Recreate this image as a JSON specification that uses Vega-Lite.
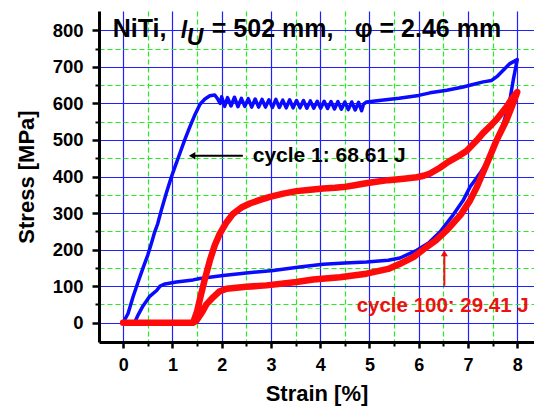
{
  "$schema": "https://vega.github.io/schema/vega-lite/v6.json",
  "width": 435,
  "height": 331,
  "autosize": {"type": "none"},
  "padding": {"left": 99, "top": 11, "right": 0, "bottom": 67},
  "background": "white",
  "config": {
    "view": {"stroke": null},
    "font": "Liberation Sans",
    "text": {"font": "Liberation Sans", "fontWeight": "bold"}
  },
  "datasets": {
    "cycle1": [
      {"i": 1, "x": 0, "y": 0}, {"i": 2, "x": 0.1, "y": 25}, {"i": 3, "x": 0.2, "y": 70}, {"i": 4, "x": 0.3, "y": 110},
      {"i": 5, "x": 0.41, "y": 152}, {"i": 6, "x": 0.5, "y": 185}, {"i": 7, "x": 0.58, "y": 220}, {"i": 8, "x": 0.64, "y": 248},
      {"i": 9, "x": 0.7, "y": 270}, {"i": 10, "x": 0.78, "y": 310}, {"i": 11, "x": 0.88, "y": 356}, {"i": 12, "x": 0.98, "y": 399},
      {"i": 13, "x": 1.07, "y": 433}, {"i": 14, "x": 1.15, "y": 463}, {"i": 15, "x": 1.25, "y": 500}, {"i": 16, "x": 1.36, "y": 538},
      {"i": 17, "x": 1.46, "y": 570}, {"i": 18, "x": 1.56, "y": 598}, {"i": 19, "x": 1.66, "y": 612}, {"i": 20, "x": 1.76, "y": 621},
      {"i": 21, "x": 1.86, "y": 623}, {"i": 22, "x": 1.92, "y": 612}, {"i": 23, "x": 1.97, "y": 600},
      {"i": 24, "x": 2.0, "y": 618}, {"i": 25, "x": 2.06, "y": 592}, {"i": 26, "x": 2.12, "y": 616}, {"i": 27, "x": 2.19, "y": 593},
      {"i": 28, "x": 2.26, "y": 617}, {"i": 29, "x": 2.33, "y": 591}, {"i": 30, "x": 2.4, "y": 614}, {"i": 31, "x": 2.47, "y": 592},
      {"i": 32, "x": 2.54, "y": 613}, {"i": 33, "x": 2.61, "y": 590}, {"i": 34, "x": 2.68, "y": 612}, {"i": 35, "x": 2.75, "y": 590},
      {"i": 36, "x": 2.82, "y": 611}, {"i": 37, "x": 2.89, "y": 590}, {"i": 38, "x": 2.96, "y": 610}, {"i": 39, "x": 3.03, "y": 589},
      {"i": 40, "x": 3.1, "y": 611}, {"i": 41, "x": 3.17, "y": 589}, {"i": 42, "x": 3.24, "y": 609}, {"i": 43, "x": 3.31, "y": 588},
      {"i": 44, "x": 3.38, "y": 610}, {"i": 45, "x": 3.45, "y": 588}, {"i": 46, "x": 3.52, "y": 608}, {"i": 47, "x": 3.59, "y": 588},
      {"i": 48, "x": 3.66, "y": 608}, {"i": 49, "x": 3.73, "y": 587}, {"i": 50, "x": 3.8, "y": 607}, {"i": 51, "x": 3.87, "y": 587},
      {"i": 52, "x": 3.94, "y": 606}, {"i": 53, "x": 4.01, "y": 587}, {"i": 54, "x": 4.08, "y": 606}, {"i": 55, "x": 4.15, "y": 586},
      {"i": 56, "x": 4.22, "y": 605}, {"i": 57, "x": 4.29, "y": 585}, {"i": 58, "x": 4.36, "y": 605}, {"i": 59, "x": 4.43, "y": 584},
      {"i": 60, "x": 4.5, "y": 604}, {"i": 61, "x": 4.57, "y": 583}, {"i": 62, "x": 4.64, "y": 604}, {"i": 63, "x": 4.71, "y": 582},
      {"i": 64, "x": 4.78, "y": 603}, {"i": 65, "x": 4.84, "y": 580}, {"i": 66, "x": 4.88, "y": 598}, {"i": 67, "x": 4.94, "y": 604},
      {"i": 68, "x": 5.2, "y": 608}, {"i": 69, "x": 5.6, "y": 614}, {"i": 70, "x": 6.0, "y": 622}, {"i": 71, "x": 6.23, "y": 629},
      {"i": 72, "x": 6.57, "y": 636}, {"i": 73, "x": 6.9, "y": 645}, {"i": 74, "x": 7.1, "y": 652}, {"i": 75, "x": 7.31, "y": 659},
      {"i": 76, "x": 7.48, "y": 663}, {"i": 77, "x": 7.6, "y": 675}, {"i": 78, "x": 7.68, "y": 686}, {"i": 79, "x": 7.85, "y": 709},
      {"i": 80, "x": 8.0, "y": 720},
      {"i": 81, "x": 7.92, "y": 665}, {"i": 82, "x": 7.85, "y": 609}, {"i": 83, "x": 7.76, "y": 565}, {"i": 84, "x": 7.68, "y": 527},
      {"i": 85, "x": 7.56, "y": 490}, {"i": 86, "x": 7.45, "y": 453}, {"i": 87, "x": 7.25, "y": 410}, {"i": 88, "x": 7.04, "y": 371},
      {"i": 89, "x": 6.9, "y": 334}, {"i": 90, "x": 6.7, "y": 295}, {"i": 91, "x": 6.43, "y": 248}, {"i": 92, "x": 6.2, "y": 218},
      {"i": 93, "x": 5.96, "y": 198}, {"i": 94, "x": 5.62, "y": 177}, {"i": 95, "x": 5.38, "y": 171}, {"i": 96, "x": 4.94, "y": 166},
      {"i": 97, "x": 4.5, "y": 163}, {"i": 98, "x": 4.06, "y": 160}, {"i": 99, "x": 3.58, "y": 152}, {"i": 100, "x": 3.05, "y": 143},
      {"i": 101, "x": 2.5, "y": 136}, {"i": 102, "x": 2.03, "y": 129}, {"i": 103, "x": 1.56, "y": 121}, {"i": 104, "x": 1.42, "y": 117},
      {"i": 105, "x": 1.08, "y": 111}, {"i": 106, "x": 0.85, "y": 106}, {"i": 107, "x": 0.75, "y": 100}, {"i": 108, "x": 0.68, "y": 88},
      {"i": 109, "x": 0.54, "y": 72}, {"i": 110, "x": 0.4, "y": 45}, {"i": 111, "x": 0.3, "y": 20}, {"i": 112, "x": 0.24, "y": 2},
      {"i": 113, "x": 0.25, "y": 0}
    ],
    "cycle100": [
      {"i": 1, "x": 0, "y": 0}, {"i": 2, "x": 0.5, "y": 0}, {"i": 3, "x": 1.0, "y": 0}, {"i": 4, "x": 1.42, "y": 0},
      {"i": 5, "x": 1.5, "y": 30}, {"i": 6, "x": 1.56, "y": 65}, {"i": 7, "x": 1.66, "y": 120}, {"i": 8, "x": 1.76, "y": 170},
      {"i": 9, "x": 1.86, "y": 212}, {"i": 10, "x": 1.96, "y": 243}, {"i": 11, "x": 2.1, "y": 275}, {"i": 12, "x": 2.23, "y": 298},
      {"i": 13, "x": 2.4, "y": 315}, {"i": 14, "x": 2.57, "y": 326}, {"i": 15, "x": 2.78, "y": 336}, {"i": 16, "x": 2.98, "y": 344},
      {"i": 17, "x": 3.25, "y": 353}, {"i": 18, "x": 3.52, "y": 360}, {"i": 19, "x": 3.8, "y": 364}, {"i": 20, "x": 4.06, "y": 367},
      {"i": 21, "x": 4.3, "y": 369}, {"i": 22, "x": 4.47, "y": 371}, {"i": 23, "x": 4.7, "y": 376}, {"i": 24, "x": 4.87, "y": 380},
      {"i": 25, "x": 5.1, "y": 385}, {"i": 26, "x": 5.38, "y": 390}, {"i": 27, "x": 5.7, "y": 394}, {"i": 28, "x": 5.96, "y": 398},
      {"i": 29, "x": 6.1, "y": 402}, {"i": 30, "x": 6.23, "y": 408}, {"i": 31, "x": 6.43, "y": 424}, {"i": 32, "x": 6.6, "y": 440},
      {"i": 33, "x": 6.77, "y": 453}, {"i": 34, "x": 6.97, "y": 470}, {"i": 35, "x": 7.18, "y": 499}, {"i": 36, "x": 7.3, "y": 518},
      {"i": 37, "x": 7.45, "y": 538}, {"i": 38, "x": 7.58, "y": 556}, {"i": 39, "x": 7.78, "y": 590}, {"i": 40, "x": 7.9, "y": 615},
      {"i": 41, "x": 8.0, "y": 631},
      {"i": 42, "x": 7.9, "y": 595}, {"i": 43, "x": 7.78, "y": 554}, {"i": 44, "x": 7.58, "y": 499}, {"i": 45, "x": 7.41, "y": 444},
      {"i": 46, "x": 7.18, "y": 371}, {"i": 47, "x": 7.04, "y": 334}, {"i": 48, "x": 6.85, "y": 295}, {"i": 49, "x": 6.57, "y": 253},
      {"i": 50, "x": 6.35, "y": 225}, {"i": 51, "x": 6.16, "y": 207}, {"i": 52, "x": 5.9, "y": 180}, {"i": 53, "x": 5.62, "y": 161},
      {"i": 54, "x": 5.38, "y": 147}, {"i": 55, "x": 4.94, "y": 134}, {"i": 56, "x": 4.4, "y": 124}, {"i": 57, "x": 3.86, "y": 118},
      {"i": 58, "x": 3.52, "y": 111}, {"i": 59, "x": 2.91, "y": 102}, {"i": 60, "x": 2.5, "y": 98}, {"i": 61, "x": 2.1, "y": 93},
      {"i": 62, "x": 1.95, "y": 85}, {"i": 63, "x": 1.83, "y": 70}, {"i": 64, "x": 1.69, "y": 50}, {"i": 65, "x": 1.6, "y": 28},
      {"i": 66, "x": 1.49, "y": 6}, {"i": 67, "x": 1.42, "y": 0}
    ]
  },
  "layer": [
    {
      "data": {"name": "cycle1"},
      "mark": {"type": "line", "color": "#0a0aff", "strokeWidth": 3.5, "strokeJoin": "round", "strokeCap": "round"},
      "encoding": {
        "x": {
          "field": "x", "type": "quantitative",
          "scale": {"domain": [-0.49, 8.34], "nice": false, "zero": false},
          "axis": {
            "orient": "bottom", "values": [0, 1, 2, 3, 4, 5, 6, 7, 8],
            "grid": true, "gridColor": "#2020ff", "gridWidth": 1.2,
            "domainColor": "black", "domainWidth": 3,
            "tickColor": "black", "tickWidth": 2.5, "tickSize": 6,
            "labelFont": "Liberation Sans", "labelFontSize": 18, "labelFontWeight": "bold", "labelColor": "black",
            "labelPadding": 8, "labelFlush": false,
            "title": "Strain [%]", "titleFont": "Liberation Sans", "titleFontSize": 22, "titleFontWeight": "bold",
            "titleColor": "black", "titlePadding": 9
          }
        },
        "y": {
          "field": "y", "type": "quantitative",
          "scale": {"domain": [-53, 853], "nice": false, "zero": false},
          "axis": {
            "orient": "left", "values": [0, 100, 200, 300, 400, 500, 600, 700, 800],
            "grid": true, "gridColor": "#2020ff", "gridWidth": 1.2,
            "domainColor": "black", "domainWidth": 3,
            "tickColor": "black", "tickWidth": 2.5, "tickSize": 7,
            "labelFont": "Liberation Sans", "labelFontSize": 18.5, "labelFontWeight": "bold", "labelColor": "black",
            "labelPadding": 9, "labelFlush": false,
            "title": "Stress [MPa]", "titleFont": "Liberation Sans", "titleFontSize": 22, "titleFontWeight": "bold",
            "titleColor": "black", "titlePadding": 14
          }
        },
        "order": {"field": "i", "type": "quantitative"}
      }
    },
    {
      "data": {"name": "cycle100"},
      "mark": {"type": "line", "color": "#ff0a0a", "strokeWidth": 6.5, "strokeJoin": "round", "strokeCap": "round"},
      "encoding": {
        "x": {
          "field": "x", "type": "quantitative",
          "axis": {
            "orient": "bottom", "values": [0.5, 1.5, 2.5, 3.5, 4.5, 5.5, 6.5, 7.5],
            "grid": true, "gridColor": "#22ee22", "gridWidth": 1.2, "gridDash": [5, 3],
            "domain": false, "labels": false, "title": null,
            "tickColor": "black", "tickWidth": 2, "tickSize": 4
          }
        },
        "y": {
          "field": "y", "type": "quantitative",
          "axis": {
            "orient": "left", "values": [50, 150, 250, 350, 450, 550, 650, 750],
            "grid": true, "gridColor": "#22ee22", "gridWidth": 1.2, "gridDash": [5, 3],
            "domain": false, "labels": false, "title": null,
            "tickColor": "black", "tickWidth": 2, "tickSize": 4
          }
        },
        "order": {"field": "i", "type": "quantitative"}
      }
    },
    {
      "data": {"values": [{"x": 1.45, "x2": 2.43, "y": 457}]},
      "mark": {"type": "rule", "color": "black", "strokeWidth": 2},
      "encoding": {
        "x": {"field": "x", "type": "quantitative", "axis": null},
        "x2": {"field": "x2"},
        "y": {"field": "y", "type": "quantitative", "axis": null}
      }
    },
    {
      "data": {"values": [{"x": 1.4, "y": 457}]},
      "mark": {"type": "point", "shape": "triangle-left", "filled": true, "color": "black", "size": 55, "opacity": 1},
      "encoding": {
        "x": {"field": "x", "type": "quantitative", "axis": null},
        "y": {"field": "y", "type": "quantitative", "axis": null}
      }
    },
    {
      "data": {"values": [{"x": 6.52, "y": 101, "y2": 185}]},
      "mark": {"type": "rule", "color": "#ee1111", "strokeWidth": 2},
      "encoding": {
        "x": {"field": "x", "type": "quantitative", "axis": null},
        "y": {"field": "y", "type": "quantitative", "axis": null},
        "y2": {"field": "y2"}
      }
    },
    {
      "data": {"values": [{"x": 6.52, "y": 190}]},
      "mark": {"type": "point", "shape": "triangle-up", "filled": true, "color": "#ee1111", "size": 50, "opacity": 1},
      "encoding": {
        "x": {"field": "x", "type": "quantitative", "axis": null},
        "y": {"field": "y", "type": "quantitative", "axis": null}
      }
    },
    {
      "data": {"values": [{"label": "cycle 1: 68.61 J", "x": 2.63, "y": 440}]},
      "mark": {"type": "text", "align": "left", "baseline": "alphabetic", "fontSize": 21, "fontWeight": "bold", "color": "black"},
      "encoding": {
        "x": {"field": "x", "type": "quantitative", "axis": null},
        "y": {"field": "y", "type": "quantitative", "axis": null},
        "text": {"field": "label"}
      }
    },
    {
      "data": {"values": [{"label": "cycle 100: 29.41 J", "x": 4.74, "y": 29}]},
      "mark": {"type": "text", "align": "left", "baseline": "alphabetic", "fontSize": 20.5, "fontWeight": "bold", "color": "#ee1111"},
      "encoding": {
        "x": {"field": "x", "type": "quantitative", "axis": null},
        "y": {"field": "y", "type": "quantitative", "axis": null},
        "text": {"field": "label"}
      }
    },
    {
      "data": {"values": [{"label": "NiTi,", "x": -0.21, "y": 781}, {"label": "= 502 mm,", "x": 1.8, "y": 781}, {"label": "φ = 2.46 mm", "x": 4.7, "y": 781}]},
      "mark": {"type": "text", "align": "left", "baseline": "alphabetic", "fontSize": 25, "fontWeight": "bold", "color": "black"},
      "encoding": {
        "x": {"field": "x", "type": "quantitative", "axis": null},
        "y": {"field": "y", "type": "quantitative", "axis": null},
        "text": {"field": "label"}
      }
    },
    {
      "data": {"values": [{"label": "l", "x": 1.17, "y": 779}, {"label": "U", "x": 1.29, "y": 761}]},
      "mark": {"type": "text", "align": "left", "baseline": "alphabetic", "fontSize": 23, "fontWeight": "bold", "fontStyle": "italic", "color": "black"},
      "encoding": {
        "x": {"field": "x", "type": "quantitative", "axis": null},
        "y": {"field": "y", "type": "quantitative", "axis": null},
        "text": {"field": "label"}
      }
    }
  ],
  "resolve": {"axis": {"x": "independent", "y": "independent"}}
}
